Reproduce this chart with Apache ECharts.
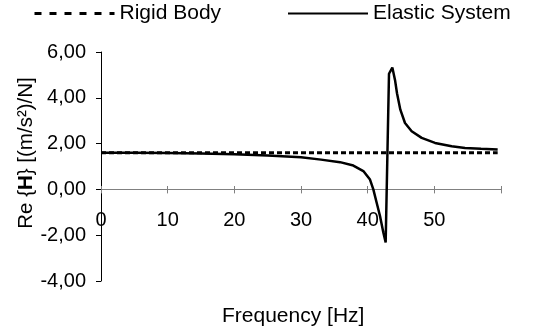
<!DOCTYPE html>
<html><head><meta charset="utf-8">
<script src="https://cdn.jsdelivr.net/npm/echarts@6/dist/echarts.min.js"></script>
<style>html,body{margin:0;padding:0;background:#fff}#c{width:533px;height:334px}</style>
</head><body><div id="c"></div>
<script>
// Frequency [Hz] and Re{H} values
const freq = [0, 5, 10, 15, 20, 25, 30, 33, 35.85, 37.85, 39.35, 40.35, 40.85, 41.35, 41.85, 42.35, 42.7, 43.2, 43.7, 44.1, 44.4, 44.9, 45.6, 46.6, 48.1, 50.1, 52.6, 54.6, 57, 59.5];
const elastic = [1.60, 1.60, 1.59, 1.57, 1.54, 1.48, 1.40, 1.30, 1.19, 1.04, 0.80, 0.43, 0.00, -0.58, -1.16, -1.88, -2.32, 5.05, 5.32, 4.78, 4.20, 3.48, 2.90, 2.54, 2.25, 2.03, 1.88, 1.81, 1.77, 1.74];
const rigidFreq = [0, 59.5];
const rigid = [1.6, 1.6];
const xTicks = [0, 10, 20, 30, 40, 50];
const yTicks = [-4, -2, 0, 2, 4, 6];

const FONT = 'Liberation Sans, Arial, sans-serif';
const chart = echarts.init(document.getElementById('c'), null, {renderer: 'canvas'});
const zip = (a, b) => a.map((v, i) => [v, b[i]]);
chart.setOption({
  animation: false,
  textStyle: {fontFamily: FONT},
  grid: [
    {left: 101, right: 32, top: 52, bottom: 53},
    {left: 101, right: 32, top: 52, bottom: 144}
  ],
  legend: [
    {data: [{name: 'Rigid Body', lineStyle: {type: [7, 8], width: 3, color: '#000'}}],
     left: 33, top: 3, padding: 0, itemWidth: 80, itemHeight: 20, itemGap: 0,
     textStyle: {fontFamily: FONT, fontSize: 21, color: '#000'},
     itemStyle: {opacity: 0},
     lineStyle: {type: [7, 8], width: 3, color: '#000'}},
    {data: ['Elastic System'], left: 287, top: 3, padding: 0, itemWidth: 80, itemHeight: 20, itemGap: 0,
     textStyle: {fontFamily: FONT, fontSize: 21, color: '#000'},
     itemStyle: {opacity: 0},
     lineStyle: {width: 2, color: '#000'}}
  ],
  xAxis: [
    {type: 'value', gridIndex: 0, min: 0, max: 60, interval: 10,
     axisLine: {onZero: true, lineStyle: {color: '#808080', width: 1}},
     axisTick: {show: true, length: 4, lineStyle: {color: '#808080'}},
     axisLabel: {show: false},
     splitLine: {show: false}},
    {type: 'value', gridIndex: 1, min: 0, max: 60, interval: 10, position: 'bottom',
     axisLine: {show: false, onZero: false},
     axisTick: {show: true, inside: true, length: 4, lineStyle: {color: '#808080'}},
     axisLabel: {show: true, margin: 20, fontSize: 20, color: '#000', fontFamily: FONT,
       formatter: v => xTicks.indexOf(v) >= 0 ? String(v) : ''},
     splitLine: {show: false}}
  ],
  yAxis: [
    {type: 'value', gridIndex: 0, min: -4, max: 6, interval: 2,
     axisLine: {show: true, onZero: false, lineStyle: {color: '#000', width: 1}},
     axisTick: {show: true, length: 5, lineStyle: {color: '#000'}},
     axisLabel: {margin: 15, fontSize: 20, color: '#000', fontFamily: FONT,
       formatter: v => yTicks.indexOf(v) >= 0 ? v.toFixed(2).replace('.', ',') : ''},
     splitLine: {show: false}},
    {type: 'value', gridIndex: 1, min: 0, max: 6, interval: 2, show: false}
  ],
  graphic: [
    {type: 'text', left: 222, top: 306, style: {text: 'Frequency [Hz]', font: '21px ' + FONT, fill: '#000'}},
    {type: 'text', x: 26, y: 153, rotation: Math.PI / 2,
     style: {text: 'Re {{b|H}} [(m/s²)/N]', font: '20.5px ' + FONT, fill: '#000', align: 'center', verticalAlign: 'middle',
       rich: {b: {fontWeight: 'bold', fontSize: 20.5, fontFamily: FONT}}}}
  ],
  series: [
    {name: 'Elastic System', type: 'line', xAxisIndex: 0, yAxisIndex: 0, data: zip(freq, elastic),
     symbol: 'none', lineStyle: {color: '#000', width: 2.5}, itemStyle: {color: '#000'}, z: 3},
    {name: 'Rigid Body', type: 'line', xAxisIndex: 0, yAxisIndex: 0, data: zip(rigidFreq, rigid),
     symbol: 'none', lineStyle: {color: '#000', width: 3, type: [5, 3]}, itemStyle: {color: '#000'}, z: 4}
  ]
});
</script></body></html>
